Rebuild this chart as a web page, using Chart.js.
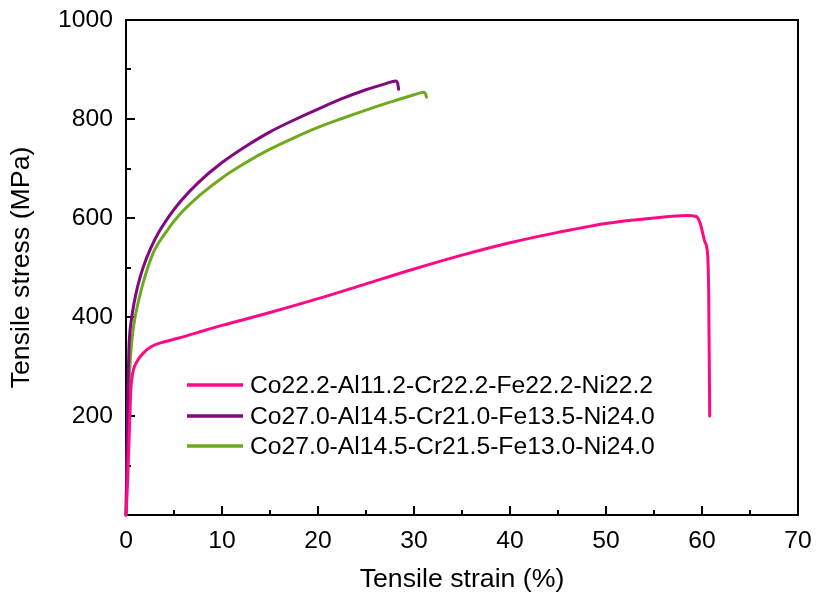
<!DOCTYPE html>
<html><head><meta charset="utf-8">
<script src="https://cdn.jsdelivr.net/npm/chart.js@4/dist/chart.umd.min.js"></script>
<style>html,body{margin:0;padding:0;background:#fff}canvas{display:block}</style>
</head><body>
<canvas id="c" width="819" height="603"></canvas>
<script>
const seriesLabels = [
  'Co22.2-Al11.2-Cr22.2-Fe22.2-Ni22.2',
  'Co27.0-Al14.5-Cr21.0-Fe13.5-Ni24.0',
  'Co27.0-Al14.5-Cr21.5-Fe13.0-Ni24.0'
];
const seriesColors = ['#FF0A84', '#82087F', '#6FA91E'];

const pinkStrain = [0, 0.15, 0.3, 0.4, 0.5, 0.6, 0.8, 1.2, 1.8, 2.6, 4, 5.4, 7.5, 10, 15, 20, 25, 30, 35, 40, 45, 50, 55, 58.4, 59.4, 59.8, 60.3, 60.6, 60.7, 60.8];
const pinkStress = [0, 60, 140, 200, 250, 275, 295, 312, 327, 340, 350, 357, 369, 383, 409, 437, 467, 497, 525, 550, 571, 589, 600, 605, 603, 590, 552, 522, 441, 200];

const purpleStrain = [0, 0.1, 0.2, 0.3, 0.4, 0.55, 0.8, 1.2, 1.8, 2.6, 3.5, 4.5, 5.6, 7.5, 10, 12.5, 15, 17.5, 20, 22.5, 25, 27, 28.1, 28.3, 28.4];
const purpleStress = [0, 130, 255, 335, 368, 393, 424, 461, 501, 540, 574, 604, 632, 671, 712, 745, 774, 798, 820, 841, 859, 871, 877, 872, 860];

const greenStrain = [0, 0.1, 0.2, 0.3, 0.45, 0.65, 0.9, 1.3, 1.8, 2.8, 4, 5.5, 7.7, 10, 12.5, 15, 17.5, 20, 22.5, 25, 27.5, 30, 31, 31.2, 31.3];
const greenStress = [0, 90, 180, 255, 315, 360, 395, 432, 470, 528, 567, 605, 646, 681, 712, 739, 762, 783, 801, 818, 834, 849, 854, 851, 844];

const xTickValues = [0, 10, 20, 30, 40, 50, 60, 70];
const yTickValues = [200, 400, 600, 800, 1000];

const FONT = '"Liberation Sans", Arial, sans-serif';

function pts(xs, ys) { return xs.map((x, i) => ({ x: x, y: ys[i] })); }
function noPad(s) { s.paddingTop = 0; s.paddingBottom = 0; s.paddingLeft = 0; s.paddingRight = 0; }

const frameAndTicks = {
  id: 'frameAndTicks',
  beforeDatasetsDraw(chart) {
    const { ctx, chartArea: a, scales: { x, y } } = chart;
    ctx.save();
    ctx.strokeStyle = '#000';
    ctx.lineWidth = 2;
    ctx.strokeRect(a.left, a.top, a.right - a.left, a.bottom - a.top);
    ctx.beginPath();
    for (let v = 5; v < 70; v += 5) {
      const px = Math.round(x.getPixelForValue(v));
      const len = v % 10 === 0 ? 9 : 5;
      ctx.moveTo(px, a.bottom);
      ctx.lineTo(px, a.bottom - len);
    }
    for (let v = 100; v < 1000; v += 100) {
      const py = Math.round(y.getPixelForValue(v));
      const len = v % 200 === 0 ? 9 : 5;
      ctx.moveTo(a.left, py);
      ctx.lineTo(a.left + len, py);
    }
    ctx.stroke();
    ctx.restore();
  }
};

const innerLegend = {
  id: 'innerLegend',
  afterDraw(chart) {
    const { ctx, chartArea: a } = chart;
    ctx.save();
    ctx.font = '24.7px ' + FONT;
    ctx.textBaseline = 'middle';
    ctx.textAlign = 'left';
    const rows = [385, 416, 446];
    chart.data.datasets.forEach((ds, i) => {
      const yy = rows[i];
      ctx.strokeStyle = ds.borderColor;
      ctx.lineWidth = 3.5;
      ctx.lineCap = 'butt';
      ctx.beginPath();
      ctx.moveTo(a.left + 61, yy);
      ctx.lineTo(a.left + 117, yy);
      ctx.stroke();
      ctx.fillStyle = '#000';
      ctx.fillText(ds.label, a.left + 124, yy + 1);
    });
    ctx.restore();
  }
};

new Chart(document.getElementById('c'), {
  type: 'line',
  data: {
    datasets: [
      { label: seriesLabels[0], data: pts(pinkStrain, pinkStress), borderColor: seriesColors[0] },
      { label: seriesLabels[1], data: pts(purpleStrain, purpleStress), borderColor: seriesColors[1] },
      { label: seriesLabels[2], data: pts(greenStrain, greenStress), borderColor: seriesColors[2] }
    ].map(d => Object.assign(d, {
      borderWidth: 3, pointRadius: 0, fill: false, clip: false,
      cubicInterpolationMode: 'monotone', borderJoinStyle: 'round', borderCapStyle: 'round'
    }))
  },
  options: {
    responsive: false,
    devicePixelRatio: 1,
    animation: false,
    layout: { padding: { left: 0, top: 20, right: 21, bottom: 0 } },
    plugins: { legend: { display: false }, tooltip: { enabled: false } },
    scales: {
      x: {
        type: 'linear', min: 0, max: 70,
        afterBuildTicks: s => { s.ticks = xTickValues.map(v => ({ value: v })); },
        afterFit: s => { s.height = 88; noPad(s); },
        grid: { display: false, drawTicks: false },
        border: { display: false },
        ticks: { color: '#000', font: { family: FONT, size: 24.7 }, padding: 11, maxRotation: 0, callback: v => String(v) },
        title: { display: true, text: 'Tensile strain (%)', color: '#000', font: { family: FONT, size: 26.7 }, padding: { top: 0, bottom: 7 } }
      },
      y: {
        type: 'linear', min: 0, max: 1000,
        afterBuildTicks: s => { s.ticks = yTickValues.map(v => ({ value: v })); },
        afterFit: s => { s.width = 126; noPad(s); },
        grid: { display: false, drawTicks: false },
        border: { display: false },
        ticks: { color: '#000', font: { family: FONT, size: 24.7 }, padding: 13, callback: v => String(v) },
        title: { display: true, text: 'Tensile stress (MPa)', color: '#000', font: { family: FONT, size: 26.7 }, padding: { top: 6, bottom: 0 } }
      }
    }
  },
  plugins: [frameAndTicks, innerLegend]
});
</script>
</body></html>
